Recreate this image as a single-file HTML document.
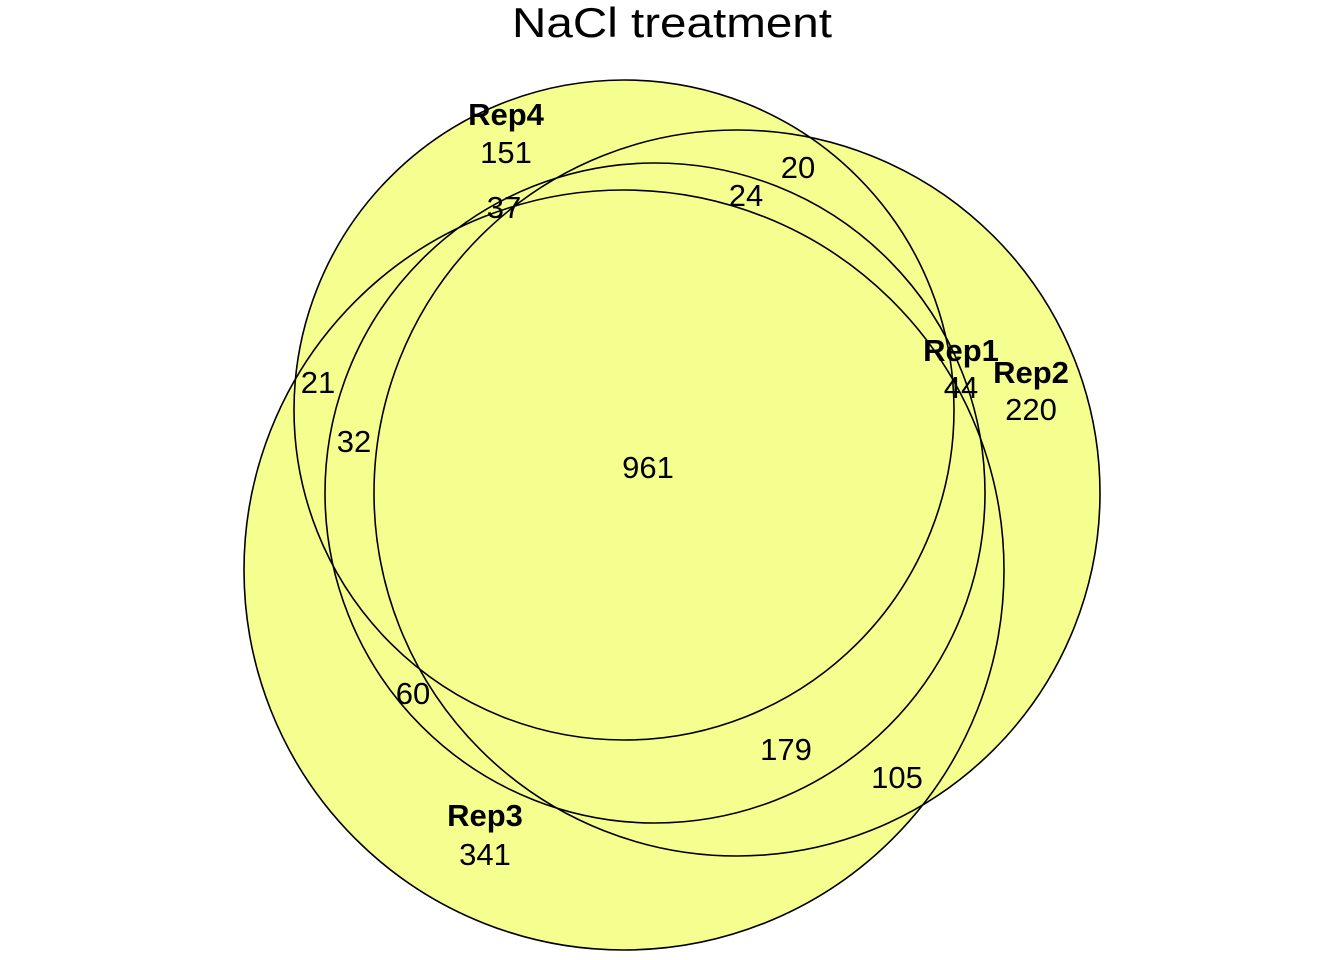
<!DOCTYPE html>
<html><head><meta charset="utf-8"><style>
html,body{margin:0;padding:0;background:#fff;}
svg{display:block;font-family:"Liberation Sans",Arial,sans-serif;}
</style></head><body>
<svg id="chart" width="1344" height="960" viewBox="0 0 1344 960" xmlns="http://www.w3.org/2000/svg">
<text x="512" y="37" font-size="42" textLength="320" lengthAdjust="spacingAndGlyphs">NaCl treatment</text>
<g id="fills"></g><g id="strokes"></g><g id="labels"></g>
</svg>
<script>
const setNames = ["Rep4","Rep3","Rep2","Rep1"];
const regionCounts = [151,341,220,44,961,37,20,24,21,32,60,179,105];
const NS="http://www.w3.org/2000/svg";
const shapes=[{cx:624,cy:410,r:330},{cx:624,cy:570,r:380},{cx:737,cy:493,r:363},{cx:655,cy:493,r:330}];
const setLabelPos=[[506,125],[485,826],[1031,383],[961,361]];
const regionPos=[[506,163],[485,865],[1031,420],[961,398],[648,478],[504,218],[798,178],[746,206],[318,393],[354,452],[413,704],[786,760],[897,788]];
const fills=document.getElementById('fills'),strokes=document.getElementById('strokes'),labels=document.getElementById('labels');
shapes.forEach((s,i)=>{
  const f=document.createElementNS(NS,'circle');
  
  
  f.setAttribute('cx',s.cx);f.setAttribute('cy',s.cy);f.setAttribute('r',s.r);f.setAttribute('fill','#f5ff8f');
  fills.appendChild(f);
  const c=document.createElementNS(NS,'circle');
  
  
  c.setAttribute('cx',s.cx);c.setAttribute('cy',s.cy);c.setAttribute('r',s.r);c.setAttribute('fill','none');c.setAttribute('stroke','#000');c.setAttribute('stroke-width','1.6');
  strokes.appendChild(c);
});
setNames.forEach((n,i)=>{
  const t=document.createElementNS(NS,'text');
  
  
  t.setAttribute('x',setLabelPos[i][0]);t.setAttribute('y',setLabelPos[i][1]);
  t.setAttribute('font-size','31');t.setAttribute('font-weight','bold');t.setAttribute('text-anchor','middle');
  t.textContent=n;labels.appendChild(t);
});
regionCounts.forEach((v,i)=>{
  const t=document.createElementNS(NS,'text');
  
  
  t.setAttribute('x',regionPos[i][0]);t.setAttribute('y',regionPos[i][1]);
  t.setAttribute('font-size','31');t.setAttribute('text-anchor','middle');
  t.textContent=v;labels.appendChild(t);
});
</script>
</body></html>
